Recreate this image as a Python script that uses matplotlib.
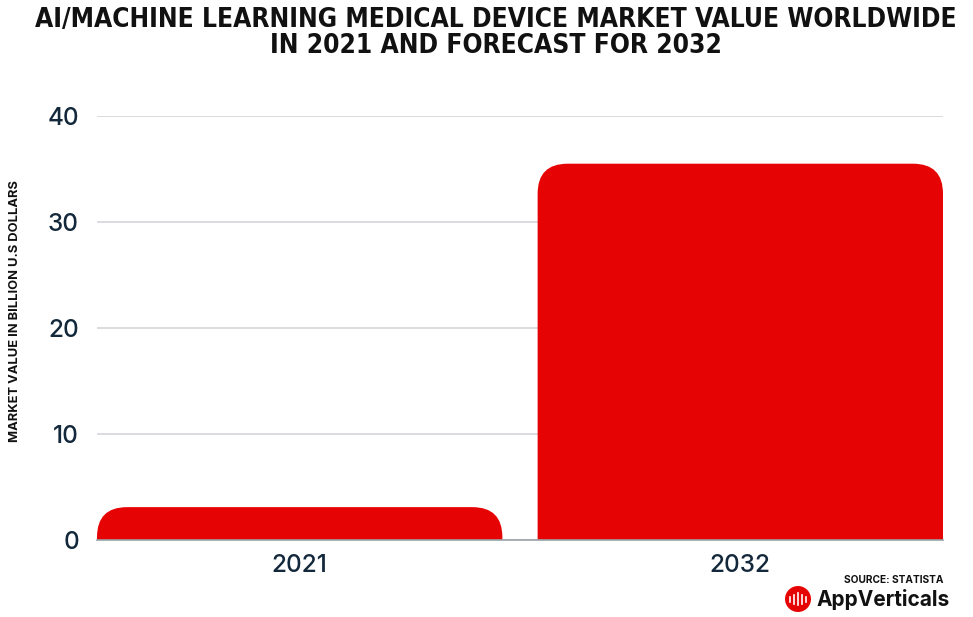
import matplotlib
matplotlib.use("Agg")
import matplotlib.pyplot as plt
from matplotlib.patches import FancyBboxPatch, Ellipse

# Chart data
years = ["2021", "2032"]
values = [3.1, 35.5]
y_ticks = [0, 10, 20, 30, 40]

title = "AI/MACHINE LEARNING MEDICAL DEVICE MARKET VALUE WORLDWIDE\nIN 2021 AND FORECAST FOR 2032"
y_label = "MARKET VALUE IN BILLION U.S DOLLARS"
source = "SOURCE: STATISTA"

bar_color = "#e60303"
text_color = "#13283a"

fig = plt.figure(figsize=(9.73, 6.17), dpi=100)
ax = fig.add_axes([97 / 973, 1 - 540 / 617, 846 / 973, 424 / 617])
ax.set_xlim(-0.46, 1.46)
ax.set_ylim(0, 40)

# px per data unit, to get round corners of equal pixel radius
px_x = 846 / 1.92
px_y = 424 / 40
radius_px = 30
rx = radius_px / px_x
ry = radius_px / px_y
width = 0.92

for i, v in enumerate(values):
    # box extends below zero so only the top corners show rounded
    patch = FancyBboxPatch(
        (i - width / 2, -ry), width, v + ry,
        boxstyle=f"round,pad=0,rounding_size={rx}",
        mutation_aspect=ry / rx,
        facecolor=bar_color, edgecolor="none", zorder=3,
    )
    ax.add_patch(patch)

ax.set_yticks(y_ticks)
ax.set_xticks(range(len(years)))
ax.set_xticklabels(years)
ax.grid(axis="y", color="#d3d6d9", linewidth=1.2, zorder=0)
ax.axhline(0, color="#9aa3a8", linewidth=1.2, zorder=4, clip_on=False)
for s in ax.spines.values():
    s.set_visible(False)
ax.tick_params(axis="both", length=0, labelsize=17.5, colors=text_color)
ax.tick_params(axis="y", pad=13)
ax.tick_params(axis="x", pad=10)
for lab in ax.get_xticklabels() + ax.get_yticklabels():
    lab.set_family("Inter")
    lab.set_fontweight("medium")

fig.text(496 / 973, 1 - 33 / 617, title, ha="center", va="center", fontsize=18.9,
         fontweight="bold", family="DejaVu Sans", fontstretch="condensed",
         color="#111111", linespacing=1.0)

fig.text(15 / 973, 1 - 311 / 617, y_label, rotation=90, ha="center", va="center",
         fontsize=9.3, fontweight="bold", family="Inter", color="#111111")

fig.text(943 / 973, 1 - 580 / 617, source, ha="right", va="center",
         fontsize=7.3, fontweight="bold", family="Inter", color="#111111")

# AppVerticals logo
fig.text(950 / 973, 1 - 600 / 617, "AppVerticals", ha="right", va="center",
         fontsize=15, fontweight="bold", family="Inter", color="#111111")
icon = Ellipse((798 / 973, 1 - 599 / 617), 26 / 973, 26 / 617,
               transform=fig.transFigure, facecolor=bar_color, edgecolor="none")
fig.add_artist(icon)
for k, h in enumerate([5, 9, 12, 9, 5]):
    xx = (790 + k * 4) / 973
    fig.add_artist(plt.Line2D([xx, xx], [1 - (599 + h / 2) / 617, 1 - (599 - h / 2) / 617],
                              transform=fig.transFigure, color="white", linewidth=1.2))

fig.savefig("out.png", dpi=100)
